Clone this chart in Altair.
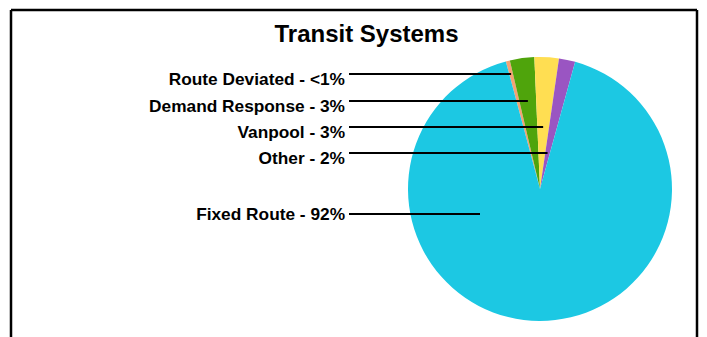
import math
import altair as alt
import pandas as pd

# ---- data ----
categories = ["Route Deviated", "Demand Response", "Vanpool", "Other", "Fixed Route"]
values = [0.5, 3, 3, 2, 92]
label_texts = ["Route Deviated - <1%", "Demand Response - 3%", "Vanpool - 3%",
               "Other - 2%", "Fixed Route - 92%"]
colors = ["#F4A274", "#4FA40C", "#FFDE52", "#9A55C2", "#1CC8E3"]
title_text = "Transit Systems"

# ---- layout (pixels in chart coordinates) ----
W, H = 691, 329
CX, CY, R = 532, 181, 132
START = math.radians(-15)
label_line_y = [66, 93, 119, 145, 206]
label_right_x = 337
line_start_x = 341

pie_df = pd.DataFrame({"cat": categories, "value": values,
                       "idx": list(range(len(categories)))})

# leader-line end points derived from slice mid angles
total = sum(values)
ends = []
acc = 0.0
for v, ly, c in zip(values, label_line_y, categories):
    a0 = START + 2 * math.pi * acc / total
    acc += v
    a1 = START + 2 * math.pi * acc / total
    mid = (a0 + a1) / 2
    if c == "Fixed Route":
        ends.append(CX - 60)
    else:
        ends.append(CX + (CY - ly) * math.tan(mid))

lab_df = pd.DataFrame({
    "text": label_texts,
    "ly": label_line_y,
    "ty": [y + 11 if i < 4 else y + 6 for i, y in enumerate(label_line_y)],
    "x0": [line_start_x] * len(categories),
    "x1": ends,
    "tx": [label_right_x] * len(categories),
})

pie = alt.Chart(pie_df).mark_arc(stroke=None).encode(
    theta=alt.Theta("value:Q", stack=True,
                    scale=alt.Scale(range=[START, START + 2 * math.pi])),
    order=alt.Order("idx:Q"),
    color=alt.Color("cat:N", scale=alt.Scale(domain=categories, range=colors),
                    legend=None),
    x=alt.value(CX), y=alt.value(CY), radius=alt.value(R),
)

lines = alt.Chart(lab_df).mark_rule(color="black", strokeWidth=2).encode(
    x=alt.X("x0:Q", scale=None, axis=None),
    x2="x1:Q",
    y=alt.Y("ly:Q", scale=None, axis=None),
)

texts = alt.Chart(lab_df).mark_text(
    align="right", baseline="alphabetic", font="Liberation Sans",
    fontWeight="bold", fontSize=17.3, color="black",
).encode(
    x=alt.X("tx:Q", scale=None, axis=None),
    y=alt.Y("ty:Q", scale=None, axis=None),
    text="text:N",
)

title = alt.Chart(pd.DataFrame({"t": [title_text]})).mark_text(
    align="center", baseline="alphabetic", font="Liberation Sans",
    fontWeight="bold", fontSize=24, color="black",
).encode(x=alt.value(358.5), y=alt.value(34), text="t:N")

frame_df = pd.DataFrame({"x": [3, 3, 689], "y": [2, 2, 2],
                         "x2": [3, 689, 689], "y2": [H + 20, 2, H + 20]})
frame = alt.Chart(frame_df).mark_rule(color="black", strokeWidth=2.5).encode(
    x=alt.X("x:Q", scale=None, axis=None), x2="x2:Q",
    y=alt.Y("y:Q", scale=None, axis=None), y2="y2:Q",
)

chart = alt.layer(frame, pie, lines, texts, title).properties(
    width=W, height=H, autosize=alt.AutoSizeParams(type="none"), padding=0,
).configure_view(stroke=None)

chart.save("out.html", embed_options={"renderer": "svg", "actions": False})
